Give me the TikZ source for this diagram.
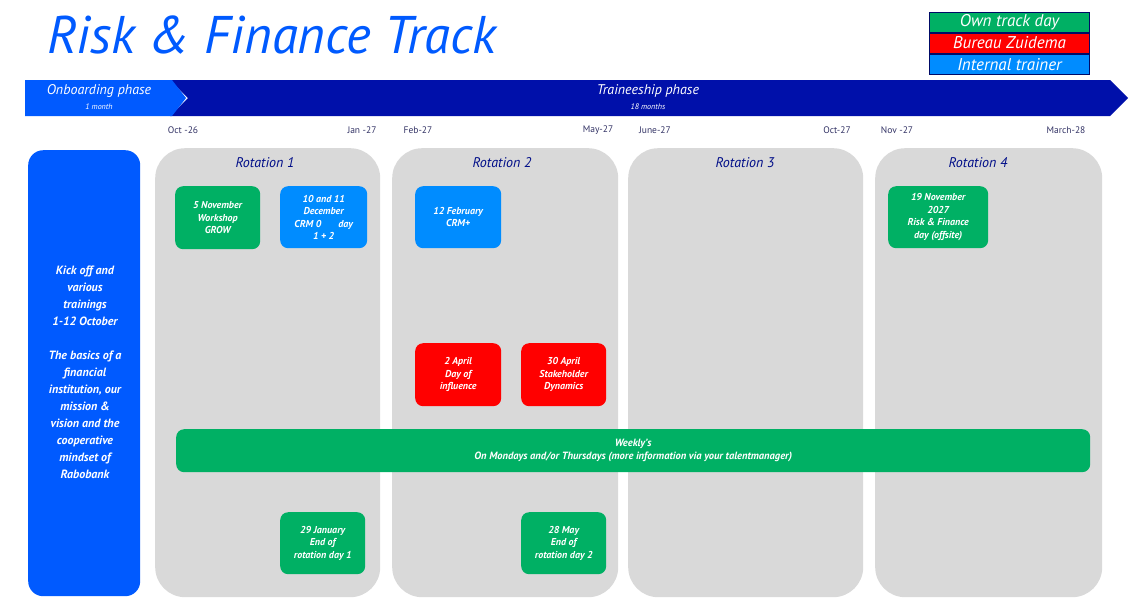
\documentclass[tikz,border=0pt]{standalone}
\usepackage{fontspec}
\setmainfont{PT Sans}
\begin{document}
\definecolor{tblue}{RGB}{0,90,255}
\definecolor{navy}{RGB}{0,16,170}
\definecolor{gr}{RGB}{0,176,100}
\definecolor{lb}{RGB}{0,140,255}
\definecolor{rd}{RGB}{255,0,0}
\definecolor{gy}{RGB}{217,217,217}
\definecolor{dt}{RGB}{50,50,100}
\begin{tikzpicture}[x=1pt,y=-1pt,
  ev/.style={rounded corners=8pt,anchor=north west,inner sep=0pt},
  et/.style={text=white,font=\itshape\fontsize{10}{12.5}\selectfont\bfseries,align=center,anchor=center,inner sep=0pt},
  rot/.style={fill=gy,rounded corners=30pt,anchor=north west,inner sep=0pt},
  rl/.style={font=\itshape\fontsize{14}{16}\selectfont,text=navy!80!black},
  dl/.style={font=\fontsize{9.5}{11}\selectfont,text=dt},
  lg/.style={draw=navy!60!black,line width=1pt,text=white,font=\itshape\fontsize{17}{18}\selectfont,minimum width=160pt,minimum height=20pt,inner sep=0pt,anchor=north west}]
\useasboundingbox (0,0) rectangle (1138,598);
\node[text=tblue,font=\itshape\fontsize{53}{58}\selectfont,anchor=west] (title) at (44,35) {Risk \& Finance Track};
\node[lg,fill=gr] (l1) at (929,12) {Own track day};
\node[lg,fill=rd] (l2) at (929,32.5) {Bureau Zuidema};
\node[lg,fill=lb] (l3) at (929,54) {Internal trainer};
\fill[navy] (170,80) -- (1110,80) -- (1128,98) -- (1110,116) -- (170,116) -- (188,98) -- cycle;
\fill[tblue] (25,80) -- (172,80) -- (186,98) -- (172,116) -- (25,116) -- cycle;
\node[text=white,font=\itshape\fontsize{14}{15}\selectfont] (ob) at (99,91) {Onboarding phase};
\node[text=white,font=\itshape\fontsize{8}{9}\selectfont] (ob2) at (99,107) {1 month};
\node[text=white,font=\itshape\fontsize{14}{15}\selectfont] (tp) at (648,91) {Traineeship phase};
\node[text=white,font=\itshape\fontsize{8}{9}\selectfont] (tp2) at (648,107) {18 months};
\node[dl] (d1) at (183,130) {Oct -26};
\node[dl] (d2) at (362,130) {Jan -27};
\node[dl] (d3) at (418,130) {Feb-27};
\node[dl] (d4) at (598,130) {May-27};
\node[dl] (d5) at (655,130) {June-27};
\node[dl] (d6) at (837,130) {Oct-27};
\node[dl] (d7) at (897,130) {Nov -27};
\node[dl] (d8) at (1066,130) {March-28};
\node[fill=tblue,rounded corners=15pt,anchor=north west,inner sep=0pt,minimum width=112pt,minimum height=446pt] (left) at (28,150) {};
\node[text=white,font=\itshape\bfseries\fontsize{12}{17}\selectfont,align=center] (lt) at (85,372) {Kick off and\\various\\trainings\\1-12 October\\[17pt]The basics of a\\financial\\institution, our\\mission \&\\vision and the\\cooperative\\mindset of\\Rabobank};
\node[rot,minimum width=225pt,minimum height=449pt] (r1) at (155,148) {};
\node[rot,minimum width=226pt,minimum height=449pt] (r2) at (392,148) {};
\node[rot,minimum width=235pt,minimum height=449pt] (r3) at (628,148) {};
\node[rot,minimum width=227pt,minimum height=449pt] (r4) at (875,148) {};
\node[rl] (rl1) at (265,163) {Rotation 1};
\node[rl] (rl2) at (502,163) {Rotation 2};
\node[rl] (rl3) at (745,163) {Rotation 3};
\node[rl] (rl4) at (978,163) {Rotation 4};
\node[ev,fill=gr,minimum width=85pt,minimum height=63pt] (e1) at (175,186) {};
\node[et] (t1) at (e1.center) {5 November\\Workshop\\GROW};
\node[ev,fill=lb,minimum width=87pt,minimum height=62pt] (e2) at (280,186) {};
\node[et] (t2) at (e2.center) {10 and 11\\December\\CRM 0 \hspace{12pt} day\\1 + 2};
\node[ev,fill=lb,minimum width=86pt,minimum height=62pt] (e3) at (415,186) {};
\node[et] (t3) at (e3.center) {12 February\\CRM+};
\node[ev,fill=gr,minimum width=100pt,minimum height=62pt] (e4) at (888,186) {};
\node[et] (t4) at (e4.center) {19 November\\2027\\Risk \& Finance\\day (offsite)};
\node[ev,fill=rd,minimum width=86pt,minimum height=63pt] (e5) at (415,343) {};
\node[et] (t5) at (e5.center) {2 April\\Day of\\influence};
\node[ev,fill=rd,minimum width=85pt,minimum height=63pt] (e6) at (521,343) {};
\node[et] (t6) at (e6.center) {30 April\\Stakeholder\\Dynamics};
\node[ev,fill=gr,minimum width=914pt,minimum height=43pt] (e7) at (176,429) {};
\node[et,font=\itshape\fontsize{10.5}{13}\selectfont\bfseries] (t7) at (e7.center) {Weekly's\\On Mondays and/or Thursdays (more information via your talentmanager)};
\node[ev,fill=gr,minimum width=85pt,minimum height=62pt] (e8) at (280,512) {};
\node[et] (t8) at (e8.center) {29 January\\End of\\rotation day 1};
\node[ev,fill=gr,minimum width=85pt,minimum height=62pt] (e9) at (521,512) {};
\node[et] (t9) at (e9.center) {28 May\\End of\\rotation day 2};
\end{tikzpicture}
\end{document}
